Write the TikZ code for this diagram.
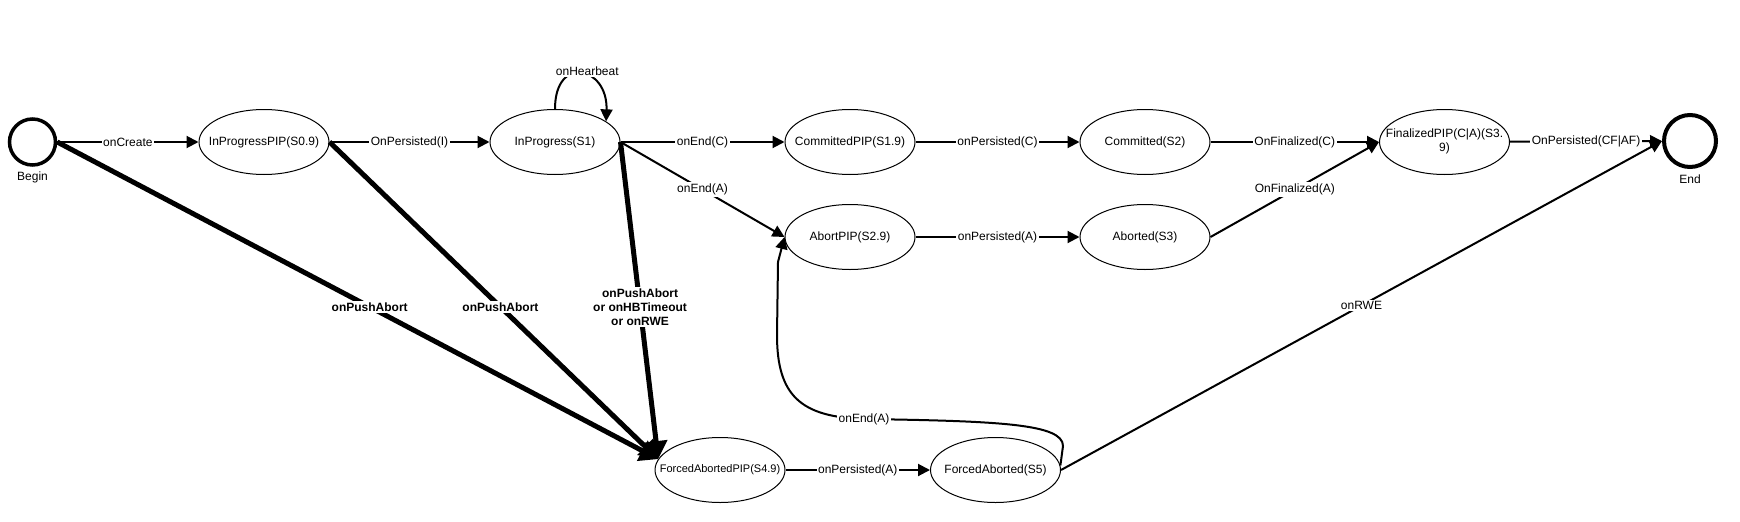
\documentclass[tikz,border=0pt]{standalone}
\usepackage{fontspec}
\setmainfont{Liberation Sans}
\usetikzlibrary{arrows.meta, shapes.geometric, positioning}

% text that does not widen the ellipse
\newcommand{\nowd}[1]{\makebox[0pt]{#1}}

\begin{document}
\begin{tikzpicture}[x=1pt, y=-1pt,
  every node/.style={font=\fontsize{12}{14}\selectfont},
  state/.style={ellipse, draw, line width=1pt, minimum width=130pt, minimum height=65pt, inner sep=0pt},
  term/.style={circle, draw, inner sep=0pt},
  edge/.style={line width=2pt, -{Triangle[length=12pt, width=12pt]}},
  fat/.style={line width=5pt, -{Triangle[length=18pt, width=22pt]}},
  lbl/.style={fill=white, inner sep=1.5pt},
  boldlbl/.style={lbl, font=\fontsize{12}{14}\selectfont\bfseries, align=center}]

  \useasboundingbox (0,0) rectangle (1740,522);

  % begin and end
  \node[term, line width=3.5pt, minimum size=46pt] (begin) at (32.5,142) {};
  \node (begintxt) at (32.5,177) {Begin};
  \node[term, line width=4pt, minimum size=52pt] (fin) at (1690,141) {};
  \node (fintxt) at (1690,179) {End};

  % states
  \node[state] (ippip) at (264,142) {\nowd{InProgressPIP(S0.9)}};
  \node[state] (ip) at (555,142) {\nowd{InProgress(S1)}};
  \node[state] (cpip) at (850,142) {\nowd{CommittedPIP(S1.9)}};
  \node[state] (com) at (1145,142) {\nowd{Committed(S2)}};
  \node[state] (fpip) at (1444.5,142)
    {\nowd{\begin{tabular}{@{}c@{}}FinalizedPIP(C|A)(S3.\\9)\end{tabular}}};
  \node[state] (apip) at (850,237) {\nowd{AbortPIP(S2.9)}};
  \node[state] (ab) at (1145,237) {\nowd{Aborted(S3)}};
  \node[state] (fapip) at (720,470) {\nowd{\fontsize{11}{13}\selectfont ForcedAbortedPIP(S4.9)}};
  \node[state] (fa) at (995.5,470) {\nowd{ForcedAborted(S5)}};

  % commit path
  \draw[edge] (begin) -- node[lbl] (lcreate) {onCreate} (ippip);
  \draw[edge] (ippip) -- node[lbl] (lpi) {OnPersisted(I)} (ip);
  \draw[edge] (ip) -- node[lbl] (lendc) {onEnd(C)} (cpip);
  \draw[edge] (cpip) -- node[lbl] (lpc) {onPersisted(C)} (com);
  \draw[edge] (com) -- node[lbl] (lfc) {OnFinalized(C)} (fpip);
  \draw[edge] (fpip) -- node[lbl] (lpcf) {OnPersisted(CF|AF)} (fin);

  % heartbeat loop
  \draw[edge] (ip.north) .. controls +(0,-55) and +(2,-55) ..
    node[lbl, xshift=6pt, yshift=3pt] (lhb) {onHearbeat} (ip.22);

  % abort path
  \draw[edge] (ip.east) -- node[lbl] (lenda) {onEnd(A)} (apip.west);
  \draw[edge] (apip) -- node[lbl] (lpa) {onPersisted(A)} (ab);
  \draw[edge] (ab.east) -- node[lbl] (lfa) {OnFinalized(A)} (fpip.west);

  % forced abort
  \draw[fat] (begin.east) -- node[boldlbl, pos=0.52] (lpush1) {onPushAbort} (fapip.170);
  \draw[fat] (ippip.east) -- node[boldlbl, pos=0.52] (lpush2) {onPushAbort} (fapip.170);
  \draw[fat] (ip.east) -- node[boldlbl, pos=0.52] (lpush3) {onPushAbort\\or onHBTimeout\\or onRWE} (fapip.170);
  \draw[edge] (fapip) -- node[lbl] (lpfa) {onPersisted(A)} (fa);
  \draw[edge] (fa.east) -- node[lbl] (lrwe) {onRWE} (fin.west);
  \draw[edge] (fa.4) -- (1063,446) .. controls (1063,424) and (1000,421) ..
    (864,419) node[lbl] (lenda2) {onEnd(A)}
    .. controls (800,417) and (777,395) .. (777,335) -- (778,262) -- (apip.west);
\end{tikzpicture}
\end{document}
